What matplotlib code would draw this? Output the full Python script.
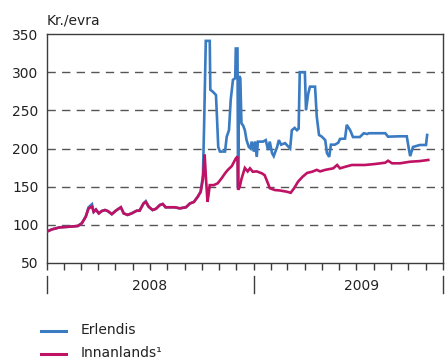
import matplotlib
matplotlib.use("Agg")
import matplotlib.pyplot as plt
import matplotlib.dates as mdates
import matplotlib.transforms as mtransforms
import pandas as pd

# Price per kilo, kr./evra
innanlands_dates = [
    "2008-01-01", "2008-01-10", "2008-01-24", "2008-02-11", "2008-02-25", "2008-03-03",
    "2008-03-10", "2008-03-15", "2008-03-21", "2008-03-24", "2008-03-28", "2008-04-02",
    "2008-04-07", "2008-04-13", "2008-04-18", "2008-04-25", "2008-05-02", "2008-05-11",
    "2008-05-16", "2008-05-23", "2008-05-30", "2008-06-08", "2008-06-13", "2008-06-20",
    "2008-06-24", "2008-06-29", "2008-07-06", "2008-07-12", "2008-07-19", "2008-07-24",
    "2008-07-29", "2008-08-06", "2008-08-14", "2008-08-23", "2008-09-03", "2008-09-10",
    "2008-09-17", "2008-09-24", "2008-09-29", "2008-10-03", "2008-10-06", "2008-10-08",
    "2008-10-11", "2008-10-13", "2008-10-15", "2008-10-22", "2008-10-29", "2008-11-05",
    "2008-11-11", "2008-11-16", "2008-11-23", "2008-11-30", "2008-12-03", "2008-12-04",
    "2008-12-07", "2008-12-10", "2008-12-16", "2008-12-21", "2008-12-25", "2008-12-30",
    "2009-01-06", "2009-01-15", "2009-01-20", "2009-01-26", "2009-01-29", "2009-02-07",
    "2009-02-16", "2009-02-28", "2009-03-07", "2009-03-13", "2009-03-20", "2009-03-28",
    "2009-04-05", "2009-04-14", "2009-04-22", "2009-04-28", "2009-05-07", "2009-05-21",
    "2009-05-28", "2009-06-02", "2009-06-11", "2009-06-23", "2009-07-16", "2009-08-03",
    "2009-08-21", "2009-08-26", "2009-09-02", "2009-09-16", "2009-10-04", "2009-10-21",
    "2009-11-05",
]
innanlands_values = [
    91, 94, 96.7, 97.6, 98.5, 102,
    110.6, 121.6, 123.8, 117, 120, 115,
    118, 119.4, 118, 114, 118.5, 123,
    115, 113, 115, 118.5, 118.5, 128,
    130, 123.8, 119.4, 121, 126, 127.3,
    123, 123, 123, 121.6, 123, 128,
    130, 137, 143.4, 160, 192, 165,
    130, 140, 152, 152, 154.4, 161,
    167.5, 172, 177, 187, 189.5, 146,
    150, 160, 174.5, 170, 174, 169.6,
    170, 167.5, 165, 154, 148, 145.6,
    145, 143.4, 142, 148, 156.6, 163,
    168, 169.6, 172, 170, 172, 174,
    178.4, 174, 176, 178.4, 178.4, 179.7,
    181.4, 184, 180.6, 180.6, 182.7, 183.5,
    185,
]

erlendis_dates = [
    "2008-01-01", "2008-01-10", "2008-01-24", "2008-02-11", "2008-02-25", "2008-03-03",
    "2008-03-10", "2008-03-15", "2008-03-21", "2008-03-24", "2008-03-28", "2008-04-02",
    "2008-04-07", "2008-04-13", "2008-04-18", "2008-04-25", "2008-05-02", "2008-05-11",
    "2008-05-16", "2008-05-23", "2008-05-30", "2008-06-08", "2008-06-13", "2008-06-20",
    "2008-06-24", "2008-06-29", "2008-07-06", "2008-07-12", "2008-07-19", "2008-07-24",
    "2008-07-29", "2008-08-06", "2008-08-14", "2008-08-23", "2008-09-03", "2008-09-10",
    "2008-09-17", "2008-09-24", "2008-09-29", "2008-10-03", "2008-10-05", "2008-10-08",
    "2008-10-15", "2008-10-16", "2008-10-21", "2008-10-26", "2008-10-28", "2008-10-30",
    "2008-11-02", "2008-11-11", "2008-11-14", "2008-11-18", "2008-11-21", "2008-11-25",
    "2008-11-29", "2008-11-30", "2008-12-03", "2008-12-04", "2008-12-06", "2008-12-08",
    "2008-12-10", "2008-12-13", "2008-12-16", "2008-12-19", "2008-12-23", "2008-12-26",
    "2008-12-28", "2009-01-01", "2009-01-03", "2009-01-06", "2009-01-08", "2009-01-17",
    "2009-01-22", "2009-01-26", "2009-01-29", "2009-02-02", "2009-02-05", "2009-02-11",
    "2009-02-14", "2009-02-18", "2009-02-25", "2009-03-06", "2009-03-09", "2009-03-14",
    "2009-03-18", "2009-03-21", "2009-03-23", "2009-04-01", "2009-04-03", "2009-04-07",
    "2009-04-10", "2009-04-19", "2009-04-22", "2009-04-26", "2009-05-01", "2009-05-07",
    "2009-05-10", "2009-05-14", "2009-05-17", "2009-05-24", "2009-05-30", "2009-06-02",
    "2009-06-11", "2009-06-14", "2009-06-20", "2009-06-25", "2009-07-07", "2009-07-14",
    "2009-07-20", "2009-07-23", "2009-08-21", "2009-08-26", "2009-09-16", "2009-09-28",
    "2009-10-02", "2009-10-04", "2009-10-09", "2009-10-21", "2009-11-01", "2009-11-03",
]
erlendis_values = [
    91, 94, 96.7, 97.6, 98.5, 102,
    111, 123, 127, 117, 120, 115,
    118, 119.4, 118, 114, 118.5, 123,
    115, 113, 115, 118.5, 118.5, 128,
    131, 123.8, 119.4, 121, 126, 127.3,
    123, 123, 123, 121.6, 123, 128,
    130, 137, 143.4, 165, 229, 341,
    341, 277, 274, 270, 237, 202,
    196, 196, 215.5, 224, 263.5, 290,
    292, 331, 331, 148, 295, 292,
    233, 230, 224, 211, 202, 200,
    209, 196, 209, 189, 209, 209,
    211, 198, 209, 194, 190, 202,
    211, 205, 207, 200, 224, 227,
    224, 226, 300, 300, 250, 272,
    281, 281, 242, 217.7, 215.5, 211,
    194, 189, 205, 205, 207.6, 212.5,
    213, 231, 224, 215, 215, 220,
    219, 220, 220, 215.5, 216, 216,
    198, 190, 202, 204.6, 204.6, 217.7,
]

y_ticks = [50, 100, 150, 200, 250, 300, 350]
grid_levels = [100, 150, 200, 250, 300]
year_labels = ["2008", "2009"]
series_names = ["Erlendis", "Innanlands\u00b9"]

BLUE = "#3a7bc2"
MAGENTA = "#bf1264"
AXIS = "#3c3c3c"
TEXT = "#222222"

W, H = 446, 361
fig = plt.figure(figsize=(W / 100, H / 100), dpi=100)
plt.rcParams["font.family"] = ["DejaVu Sans"]

left, right, top, bottom = 46.7, 443, 34, 263
ax = fig.add_axes([left / W, 1 - bottom / H, (right - left) / W, (bottom - top) / H])

x_start = pd.Timestamp("2008-01-01")
x_end = pd.Timestamp("2009-12-01")

ax.plot(pd.to_datetime(erlendis_dates), erlendis_values, color=BLUE, lw=1.9,
        solid_joinstyle="miter", zorder=3)
ax.plot(pd.to_datetime(innanlands_dates), innanlands_values, color=MAGENTA, lw=1.9,
        solid_joinstyle="miter", zorder=4)

for lvl in grid_levels:
    ax.axhline(lvl, color="#555555", lw=1.0, dashes=(6, 4.5), zorder=1)

ax.set_xlim(x_start, x_end)
ax.set_ylim(50, 350)
ax.set_yticks(y_ticks)
ax.set_yticklabels([str(v) for v in y_ticks], fontsize=10, color=TEXT)
ax.tick_params(axis="y", length=0, pad=6)

months = pd.date_range(x_start, x_end, freq="MS")
ax.set_xticks(months)
ax.set_xticklabels([])
ax.tick_params(axis="x", direction="out", length=5, width=1, color=AXIS)

for s in ax.spines.values():
    s.set_color(AXIS)
    s.set_linewidth(1)

# Year separators and year labels under the month ticks
trans = mtransforms.blended_transform_factory(ax.transData, ax.transAxes)
for d in ["2008-01-01", "2009-01-01", "2009-12-01"]:
    xd = mdates.date2num(pd.Timestamp(d))
    ax.plot([xd, xd], [-0.058, -0.13], color=AXIS, lw=1, transform=trans, clip_on=False)
for lbl, mid in zip(year_labels, ["2008-07-01", "2009-07-10"]):
    ax.text(mdates.date2num(pd.Timestamp(mid)), -0.1, lbl, transform=trans,
            ha="center", va="center", fontsize=10, color=TEXT)

fig.text(left / W, 1 - 21 / H, "Kr./evra", ha="left", va="center", fontsize=10, color=TEXT)

# Legend drawn below the chart
for name, color, yy in zip(series_names, [BLUE, MAGENTA], [331, 354]):
    fig.add_artist(plt.Line2D([41 / W, 66 / W], [1 - yy / H, 1 - yy / H], color=color, lw=2.2))
    fig.text(81 / W, 1 - (yy - 1) / H, name, ha="left", va="center", fontsize=10, color=TEXT)

fig.savefig("out.png", dpi=100)
